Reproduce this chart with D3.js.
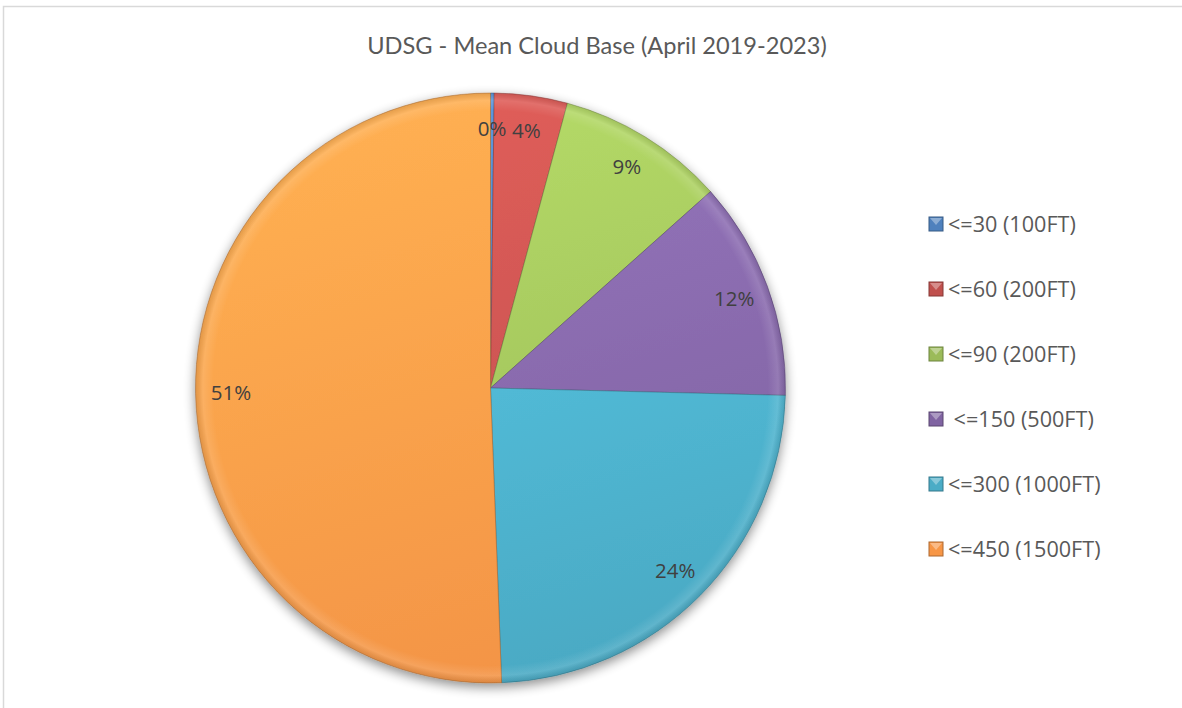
<!DOCTYPE html>
<html><head><meta charset="utf-8">
<script src="https://cdn.jsdelivr.net/npm/d3@7"></script>
<style>body{margin:0;background:#fff}svg{display:block}</style>
</head><body>
<svg id="c" width="1182" height="708"></svg>
<script>
const categories = ["<=30 (100FT)", "<=60 (200FT)", "<=90 (200FT)", " <=150 (500FT)", "<=300 (1000FT)", "<=450 (1500FT)"];
const values = [0.2, 4.0, 9.2, 12.0, 24.0, 50.6];
const colors = ["#4F81BD", "#C0504D", "#9BBB59", "#8064A2", "#4BACC6", "#F79646"];
const title = "UDSG - Mean Cloud Base (April 2019-2023)";

const svg = d3.select("#c");
const W = 1182, H = 708;
const defs = svg.append("defs");

svg.append("path").attr("d", `M3.5,${H} V6.5 H${W}`).attr("fill","none").attr("stroke","#d9d9d9").attr("stroke-width",1.5);

svg.append("text").attr("x", 597).attr("y", 54).attr("text-anchor","middle")
  .attr("font-family","Lato, 'Open Sans', sans-serif").attr("font-size",23.6).attr("fill","#595959").text(title);

const cx = 490.5, cy = 388, R = 295;

const f = defs.append("filter").attr("id","sh").attr("x","-20%").attr("y","-20%").attr("width","140%").attr("height","140%");
f.append("feGaussianBlur").attr("in","SourceAlpha").attr("stdDeviation",6).attr("result","b");
f.append("feOffset").attr("in","b").attr("dx",0).attr("dy",4).attr("result","o");
f.append("feComponentTransfer").attr("in","o").attr("result","o2").append("feFuncA").attr("type","linear").attr("slope",0.45);
const m = f.append("feMerge"); m.append("feMergeNode").attr("in","o2"); m.append("feMergeNode").attr("in","SourceGraphic");

colors.forEach((c,i)=>{
  const g = defs.append("linearGradient").attr("id","g"+i).attr("gradientUnits","userSpaceOnUse")
    .attr("x1",-R*0.3).attr("y1",-R).attr("x2",R*0.3).attr("y2",R);
  g.append("stop").attr("offset","0%").attr("stop-color", d3.color(c).brighter(0.45));
  g.append("stop").attr("offset","100%").attr("stop-color", d3.color(c).darker(0.05));
});
const rg = defs.append("radialGradient").attr("id","rim").attr("gradientUnits","userSpaceOnUse")
  .attr("cx",0).attr("cy",0).attr("r",R);
rg.append("stop").attr("offset","0%").attr("stop-color","#fff").attr("stop-opacity",0);
rg.append("stop").attr("offset","94%").attr("stop-color","#fff").attr("stop-opacity",0);
rg.append("stop").attr("offset","97.5%").attr("stop-color","#fff").attr("stop-opacity",0.12);
rg.append("stop").attr("offset","100%").attr("stop-color","#000").attr("stop-opacity",0.1);

const pie = d3.pie().sort(null).value(d=>d);
const arcs = pie(values);
const arc = d3.arc().innerRadius(0).outerRadius(R);
const g = svg.append("g").attr("transform",`translate(${cx},${cy})`);
const gp = g.append("g").attr("filter","url(#sh)");
gp.selectAll("path.s").data(arcs).join("path").attr("class","s")
  .attr("d", arc).attr("fill",(d,i)=>`url(#g${i})`)
  .attr("stroke",(d,i)=>d3.color(colors[i]).darker(1.2)).attr("stroke-width",0.8).attr("stroke-opacity",0.6);
g.selectAll("path.r").data(arcs).join("path").attr("class","r")
  .attr("d", arc).attr("fill","url(#rim)");

const total = d3.sum(values);
const la = d3.arc().innerRadius(R*0.88).outerRadius(R*0.88);
g.selectAll("text.l").data(arcs).join("text").attr("class","l")
  .attr("transform", d=>{const [x,y]=la.centroid(d); return `translate(${x},${y})`;})
  .attr("text-anchor","middle").attr("dy","0.35em")
  .attr("font-family","'Open Sans', Lato, sans-serif").attr("font-size",20.5).attr("fill","#404040")
  .text(d=>Math.round(d.value/total*100)+"%");

const ly = d3.scalePoint().domain(categories).range([224, 549]);
const lg = svg.append("g");
const items = lg.selectAll("g").data(categories).join("g").attr("transform",d=>`translate(929,${ly(d)})`);
items.append("rect").attr("x",0).attr("y",-7).attr("width",14).attr("height",14)
  .attr("fill",(d,i)=>colors[i]).attr("stroke",(d,i)=>d3.color(colors[i]).darker(1));
items.append("path").attr("d","M1,-6 L13,-6 L7,1 Z").attr("fill","#fff").attr("opacity",0.35);
items.append("text").attr("x",19).attr("dy","0.35em").attr("xml:space","preserve").style("white-space","pre")
  .attr("font-family","'Open Sans', Lato, sans-serif").attr("font-size",21.6).attr("fill","#595959").text(d=>d);
</script>
</body></html>
